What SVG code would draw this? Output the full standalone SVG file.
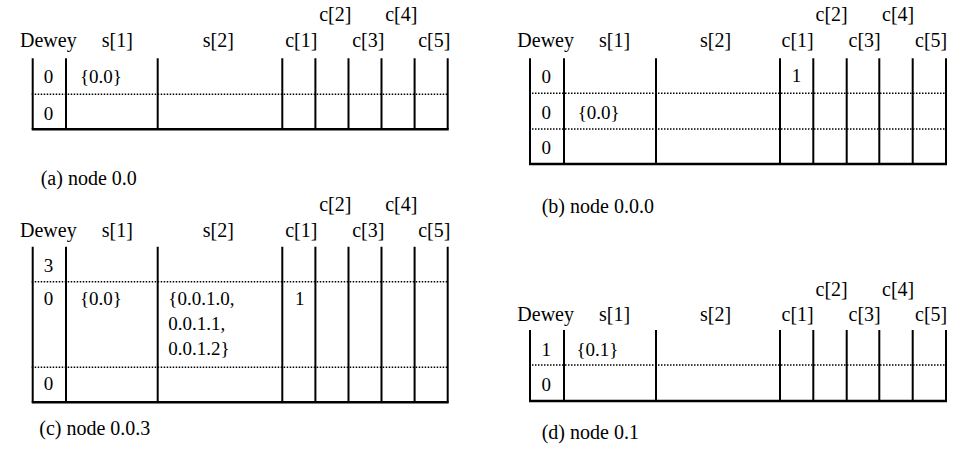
<svg xmlns="http://www.w3.org/2000/svg" width="966" height="449" viewBox="0 0 966 449">
<style>
.t{font-family:'Liberation Serif','Times New Roman',serif;font-size:20px;fill:#000}
.c{font-family:'Liberation Serif','Times New Roman',serif;font-size:19px;fill:#000}
.v{stroke:#000;stroke-width:2;fill:none}
.b{stroke:#000;stroke-width:2.5;fill:none}
.d{stroke:#000;stroke-width:1.5;stroke-dasharray:1.5 1.5;fill:none}
</style>
<rect width="966" height="449" fill="#fff"/>

<g id="panel-a" transform="translate(32.7,58.3)">
  <g id="panel-a-header">
    <text class="t" x="-12.7" y="-11.3">Dewey</text>
    <text class="t" x="69" y="-11.3">s[1]</text>
    <text class="t" x="170" y="-11.3">s[2]</text>
    <text class="t" x="252.5" y="-11.3">c[1]</text>
    <text class="t" x="286.5" y="-37.6">c[2]</text>
    <text class="t" x="319.5" y="-11.3">c[3]</text>
    <text class="t" x="352.5" y="-37.6">c[4]</text>
    <text class="t" x="385.5" y="-11.3">c[5]</text>
  </g>
  <path class="v" d="M0 0V71M33.3 0V71M125 0V71M249.6 0V71M282.7 0V71M315.8 0V71M348.8 0V71M381.9 0V71M415 0V71"/>
  <path class="d" d="M-1 36H416"/>
  <path class="b" d="M-1 71H416"/>
  <text class="c" x="11" y="24.8">0</text>
  <text class="c" x="47.3" y="24.8">{0.0}</text>
  <text class="c" x="11" y="61.5">0</text>
</g>
<text id="caption-a" class="t" x="40.7" y="185">(a) node 0.0</text>

<g id="panel-b" transform="translate(530,58.3)">
  <g id="panel-b-header">
    <text class="t" x="-12.7" y="-11.6">Dewey</text>
    <text class="t" x="69" y="-11.6">s[1]</text>
    <text class="t" x="170" y="-11.6">s[2]</text>
    <text class="t" x="251.5" y="-11.6">c[1]</text>
    <text class="t" x="285.5" y="-37.6">c[2]</text>
    <text class="t" x="318.5" y="-11.6">c[3]</text>
    <text class="t" x="352" y="-37.6">c[4]</text>
    <text class="t" x="385" y="-11.6">c[5]</text>
  </g>
  <path class="v" d="M0 0V105.7M34 0V105.7M126 0V105.7M250 0V105.7M283.3 0V105.7M316.7 0V105.7M349.3 0V105.7M382.7 0V105.7M416 0V105.7"/>
  <path class="d" d="M-1 35H417M-1 70.7H417"/>
  <path class="b" d="M-1 105.7H417"/>
  <text class="c" x="11.5" y="25">0</text>
  <text class="c" x="261.7" y="24">1</text>
  <text class="c" x="11.5" y="61">0</text>
  <text class="c" x="47.7" y="61">{0.0}</text>
  <text class="c" x="11.5" y="96">0</text>
</g>
<text id="caption-b" class="t" x="541.7" y="213.3">(b) node 0.0.0</text>

<g id="panel-c" transform="translate(32.7,246.7)">
  <g id="panel-c-header">
    <text class="t" x="-12.7" y="-9.6">Dewey</text>
    <text class="t" x="69" y="-9.6">s[1]</text>
    <text class="t" x="170" y="-9.6">s[2]</text>
    <text class="t" x="252.5" y="-9.6">c[1]</text>
    <text class="t" x="286.5" y="-35.7">c[2]</text>
    <text class="t" x="319.5" y="-9.6">c[3]</text>
    <text class="t" x="352.5" y="-35.7">c[4]</text>
    <text class="t" x="385.5" y="-9.6">c[5]</text>
  </g>
  <path class="v" d="M0 0V155.6M33.3 0V155.6M125 0V155.6M249.6 0V155.6M282.7 0V155.6M315.8 0V155.6M348.8 0V155.6M381.9 0V155.6M415 0V155.6"/>
  <path class="d" d="M-1 35H416M-1 120.5H416"/>
  <path class="b" d="M-1 155.6H416"/>
  <text class="c" x="11" y="25">3</text>
  <text class="c" x="11" y="58">0</text>
  <text class="c" x="47.3" y="58">{0.0}</text>
  <text class="c" x="135.6" y="58">{0.0.1.0,</text>
  <text class="c" x="135.6" y="83">0.0.1.1,</text>
  <text class="c" x="135.6" y="108">0.0.1.2}</text>
  <text class="c" x="262.3" y="58">1</text>
  <text class="c" x="11" y="143.5">0</text>
</g>
<text id="caption-c" class="t" x="39.3" y="434.5">(c) node 0.0.3</text>

<g id="panel-d" transform="translate(530,330)">
  <g id="panel-d-header">
    <text class="t" x="-12.7" y="-9">Dewey</text>
    <text class="t" x="69" y="-9">s[1]</text>
    <text class="t" x="170" y="-9">s[2]</text>
    <text class="t" x="251.5" y="-9">c[1]</text>
    <text class="t" x="285.5" y="-34.5">c[2]</text>
    <text class="t" x="318.5" y="-9">c[3]</text>
    <text class="t" x="352" y="-34.5">c[4]</text>
    <text class="t" x="385" y="-9">c[5]</text>
  </g>
  <path class="v" d="M0 0V71M34 0V71M126 0V71M250 0V71M283.3 0V71M316.7 0V71M349.3 0V71M382.7 0V71M416 0V71"/>
  <path class="d" d="M-1 35H417"/>
  <path class="b" d="M-1 71H417"/>
  <text class="c" x="11.5" y="25.5">1</text>
  <text class="c" x="46.5" y="25.5">{0.1}</text>
  <text class="c" x="11.5" y="60.5">0</text>
</g>
<text id="caption-d" class="t" x="541.7" y="438.5">(d) node 0.1</text>
</svg>
